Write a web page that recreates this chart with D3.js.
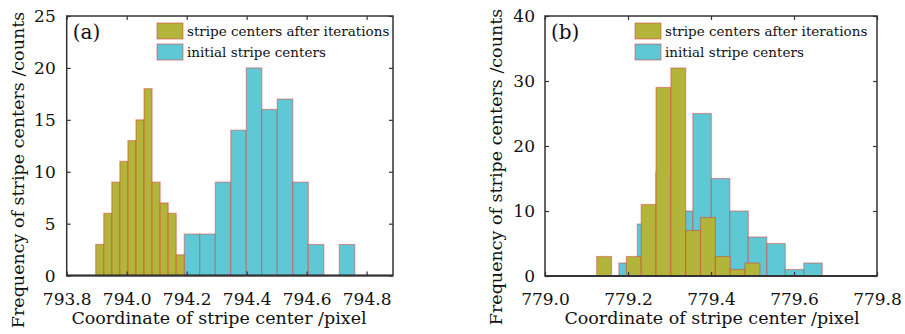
<!DOCTYPE html>
<html>
<head>
<meta charset="utf-8">
<script src="https://cdn.jsdelivr.net/npm/d3@7"></script>
<style>
  body { margin: 0; background: #ffffff; }
  svg text { font-family: "DejaVu Serif", "Liberation Serif", serif; fill: #111; }
</style>
</head>
<body>
<svg id="chart" width="905" height="334"></svg>
<script>
// panel (a) histogram bins
var aIterStart = 793.8967, aIterWidth = 0.02685;
var aIterCounts = [3, 6, 9, 11, 13, 15, 18, 9, 7, 6, 2];
var aInitStart = 794.192, aInitWidth = 0.0517;
var aInitCounts = [4, 4, 9, 14, 20, 16, 17, 9, 3, 0, 3];
var aXTicks = [793.8, 794.0, 794.2, 794.4, 794.6, 794.8];
var aYTicks = [0, 5, 10, 15, 20, 25];

// panel (b) histogram bins
var bIterStart = 779.1246, bIterWidth = 0.03574;
var bIterCounts = [3, 0, 3, 11, 29, 32, 7, 9, 3, 1, 2];
var bInitStart = 779.178, bInitWidth = 0.04455;
var bInitCounts = [2, 8, 16, 10, 25, 15, 10, 6, 5, 1, 2];
var bXTicks = [779.0, 779.2, 779.4, 779.6, 779.8];
var bYTicks = [0, 10, 20, 30, 40];

var legendNames = ["stripe centers after iterations", "initial stripe centers"];
var iterColor = "#b3b43a", initColor = "#5fc8d5";
var edgeColor = "rgba(215,55,55,0.45)";

var svg = d3.select("#chart");

function toBins(start, width, counts){
  return counts.map(function(c, i){
    return { x0: start + i * width, x1: start + (i + 1) * width, n: c };
  });
}

function drawPanel(cfg){
  var x = d3.scaleLinear().domain(cfg.xDomain).range([cfg.left, cfg.right]);
  var y = d3.scaleLinear().domain(cfg.yDomain).range([cfg.bottom, cfg.top]);
  var g = svg.append("g");

  // bars: initial first, iterations on top
  var series = [
    { bins: toBins(cfg.initStart, cfg.initWidth, cfg.initCounts), color: initColor },
    { bins: toBins(cfg.iterStart, cfg.iterWidth, cfg.iterCounts), color: iterColor }
  ];
  series.forEach(function(s){
    g.append("g").selectAll("rect")
      .data(s.bins).enter().append("rect")
      .attr("x", function(d){ return x(d.x0); })
      .attr("width", function(d){ return x(d.x1) - x(d.x0); })
      .attr("y", function(d){ return y(d.n); })
      .attr("height", function(d){ return y(0) - y(d.n); })
      .style("fill", s.color)
      .style("stroke", edgeColor)
      .style("stroke-width", 1.2);
  });

  // axes
  var xAxis = d3.axisBottom(x).tickValues(cfg.xTicks).tickFormat(d3.format(".1f"))
    .tickSizeInner(-4).tickSizeOuter(0).tickPadding(17);
  var yAxis = d3.axisLeft(y).tickValues(cfg.yTicks).tickFormat(d3.format("d"))
    .tickSizeInner(-4).tickSizeOuter(0).tickPadding(cfg.yPad);
  var xTop = d3.axisTop(x).tickValues(cfg.xTicks).tickFormat("").tickSizeInner(-4).tickSizeOuter(0);
  var yRight = d3.axisRight(y).tickValues(cfg.yTicks).tickFormat("").tickSizeInner(-4).tickSizeOuter(0);

  var ax = [
    g.append("g").attr("transform", "translate(0," + cfg.bottom + ")").call(xAxis),
    g.append("g").attr("transform", "translate(" + cfg.left + ",0)").call(yAxis),
    g.append("g").attr("transform", "translate(0," + cfg.top + ")").call(xTop),
    g.append("g").attr("transform", "translate(" + cfg.right + ",0)").call(yRight)
  ];
  ax.forEach(function(a){
    a.select(".domain").remove();
    a.selectAll("line").style("stroke", "#333").style("stroke-width", 1.2);
    a.selectAll("text").style("font-size", "17px").style("font-family", "DejaVu Serif").style("fill", "#111");
  });

  // frame
  g.append("rect")
    .attr("x", cfg.left).attr("y", cfg.top)
    .attr("width", cfg.right - cfg.left).attr("height", cfg.bottom - cfg.top)
    .style("fill", "none").style("stroke", "#333").style("stroke-width", 1.5);
  g.append("line")
    .attr("x1", cfg.left).attr("x2", cfg.right)
    .attr("y1", cfg.bottom).attr("y2", cfg.bottom)
    .style("stroke", "#333").style("stroke-width", 2);

  // panel tag
  g.append("text").attr("x", cfg.left + 6).attr("y", cfg.top + 23)
    .style("font-size", "20px").text(cfg.tag);

  // legend
  [iterColor, initColor].forEach(function(c, i){
    var ly = cfg.top + 7 + i * 21;
    g.append("rect").attr("x", cfg.legX).attr("y", ly).attr("width", 26).attr("height", 16)
      .style("fill", c).style("stroke", edgeColor).style("stroke-width", 1.2);
    g.append("text").attr("x", cfg.legX + 30).attr("y", ly + 13)
      .style("font-size", "13.5px").text(legendNames[i]);
  });

  // axis titles
  g.append("text").attr("x", cfg.xLabelX).attr("y", 324)
    .attr("text-anchor", "middle").style("font-size", "17.5px")
    .text("Coordinate of stripe center /pixel");
  g.append("text")
    .attr("transform", "translate(" + cfg.yLabelX + "," + cfg.yLabelY + ") rotate(-90)")
    .attr("text-anchor", "middle").style("font-size", "17.5px")
    .text("Frequency of stripe centers /counts");
}

drawPanel({
  left: 66.7, right: 393, top: 16, bottom: 275.6,
  xDomain: [793.8, 794.888], yDomain: [0, 25],
  xTicks: aXTicks, yTicks: aYTicks, yPad: 11,
  iterStart: aIterStart, iterWidth: aIterWidth, iterCounts: aIterCounts,
  initStart: aInitStart, initWidth: aInitWidth, initCounts: aInitCounts,
  tag: "(a)", legX: 157, xLabelX: 219, yLabelX: 24, yLabelY: 170
});

drawPanel({
  left: 545, right: 877, top: 16, bottom: 276,
  xDomain: [779.0, 779.8], yDomain: [0, 40],
  xTicks: bXTicks, yTicks: bYTicks, yPad: 10,
  iterStart: bIterStart, iterWidth: bIterWidth, iterCounts: bIterCounts,
  initStart: bInitStart, initWidth: bInitWidth, initCounts: bInitCounts,
  tag: "(b)", legX: 635, xLabelX: 712, yLabelX: 502, yLabelY: 167
});
</script>
</body>
</html>
